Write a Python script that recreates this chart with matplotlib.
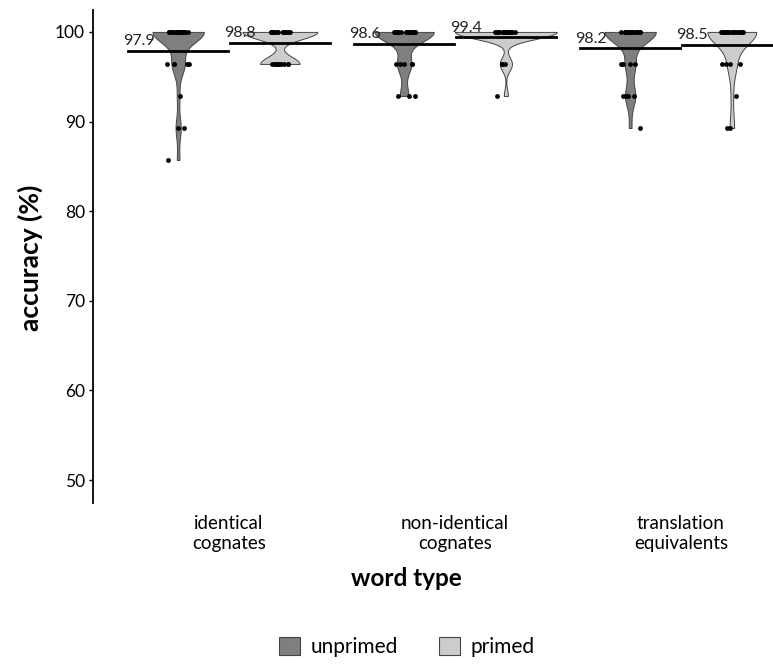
import matplotlib
matplotlib.use("Agg")
import matplotlib.pyplot as plt
from matplotlib.patches import Patch
import numpy as np

plt.rcParams['font.family'] = ['Lato', 'DejaVu Sans']

# word types on the x axis
categories = ["identical\ncognates", "non-identical\ncognates", "translation\nequivalents"]
conditions = ["unprimed", "primed"]
fills = {"unprimed": "#7f7f7f", "primed": "#cccccc"}

# errors per participant (out of 28 items), 29 participants per cell
N_ITEMS = 28
errors = {
    ("identical", "unprimed"): [0]*20 + [1]*5 + [2] + [3]*2 + [4],
    ("identical", "primed"): [0]*19 + [1]*10,
    ("non-identical", "unprimed"): [0]*21 + [1]*5 + [2]*3,
    ("non-identical", "primed"): [0]*25 + [1]*3 + [2],
    ("translation", "unprimed"): [0]*20 + [1]*4 + [2]*4 + [3],
    ("translation", "primed"): [0]*22 + [1]*4 + [2] + [3]*2,
}
keys = ["identical", "non-identical", "translation"]

yticks = [50, 60, 70, 80, 90, 100]


def bw_nrd0(x):
    hi = np.std(x, ddof=1)
    iqr = np.subtract(*np.percentile(x, [75, 25]))
    lo = min(hi, iqr / 1.34)
    if not lo:
        lo = hi
    return 0.9 * lo * len(x) ** -0.2


def kde(x, grid):
    bw = bw_nrd0(x)
    z = (grid[:, None] - x[None, :]) / bw
    return np.exp(-0.5 * z**2).sum(axis=1) / (len(x) * bw * np.sqrt(2 * np.pi))


fig = plt.figure(figsize=(7.73, 6.64), dpi=100)
ax = fig.add_axes([93.4/773, 1 - 502.5/664, 723.2/773, 493/664])

# densities first, so widths can be scaled by the common max (area scaling)
dens = {}
for k in keys:
    for c in conditions:
        acc = 100 * (N_ITEMS - np.array(errors[(k, c)], float)) / N_ITEMS
        grid = np.linspace(acc.min(), acc.max(), 512)
        dens[(k, c)] = (acc, grid, kde(acc, grid))
dmax = max(d[2].max() for d in dens.values())

rng = np.random.default_rng(3)
dodge = 0.225
for i, k in enumerate(keys):
    for j, c in enumerate(conditions):
        xc = i + 1 + (dodge if j else -dodge)
        acc, grid, d = dens[(k, c)]
        w = d / dmax * 0.225
        ax.fill_betweenx(grid, xc - w, xc + w, facecolor=fills[c],
                         edgecolor="#444444", lw=0.7, zorder=2)
        jit = rng.uniform(-0.05, 0.05, len(acc))
        ax.scatter(xc + jit, acc, s=12, color="black", zorder=3, lw=0)
        m = acc.mean()
        ax.plot([xc - 0.22, xc + 0.22], [m, m], color="black", lw=2, zorder=4)
        ax.annotate(f"{m:.1f}", (xc - 0.175, m), xytext=(0, 2),
                    textcoords="offset points", ha="center", va="bottom",
                    fontsize=11.5, color="#222222", zorder=5)

ax.set_xlim(0.4, 3.6)
ax.set_ylim(47.5, 102.5)
ax.set_yticks(yticks)
ax.set_xticks([1, 2, 3])
ax.set_xticklabels(categories, fontsize=13.5, linespacing=1.2)
ax.tick_params(axis="x", length=0, pad=9)
ax.tick_params(axis="y", length=3, width=1, labelsize=12.5, pad=3)
for s in ["top", "right", "bottom"]:
    ax.spines[s].set_visible(False)
ax.spines["left"].set_linewidth(1.3)

fig.text(30/773, 1 - 258/664, "accuracy (%)", rotation=90, ha="center",
         va="center", fontsize=19, fontweight="bold")
fig.text(406/773, 1 - 579/664, "word type", ha="center", va="center",
         fontsize=17.5, fontweight="bold")

handles = [Patch(facecolor=fills[c], edgecolor="#444444", lw=0.8) for c in conditions]
fig.legend(handles, conditions, loc="center", bbox_to_anchor=(407/773, 1 - 647/664),
           ncol=2, frameon=False, fontsize=15, handlelength=1.0, handleheight=1.0,
           columnspacing=2.0, handletextpad=0.5)

fig.savefig("out.png", dpi=100)
